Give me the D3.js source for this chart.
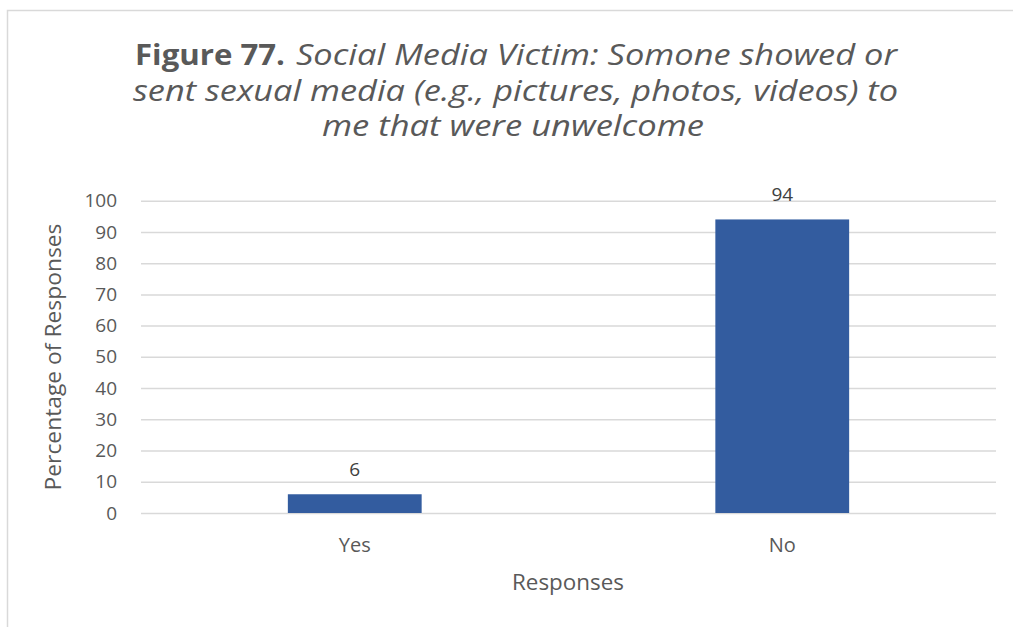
<!DOCTYPE html>
<html>
<head>
<meta charset="utf-8">
<script src="https://cdn.jsdelivr.net/npm/d3@7"></script>
<style>
  html, body { margin: 0; padding: 0; background: #fff; }
  svg { display: block; }
  svg text { font-family: "Open Sans", "DejaVu Sans", sans-serif; }
</style>
</head>
<body>
<svg id="chart" width="1013" height="627"></svg>
<script>
// Survey responses (percent)
const categories = ["Yes", "No"];
const percentages = [6, 94];
const yTicks = [0, 10, 20, 30, 40, 50, 60, 70, 80, 90, 100];

const titleBold = "Figure 77.";
const titleLines = [
  "Social Media Victim: Somone showed or",
  "sent sexual media (e.g., pictures, photos, videos) to",
  "me that were unwelcome"
];
const yAxisTitle = "Percentage of Responses";
const xAxisTitle = "Responses";

const W = 1013, H = 627;
const plot = { left: 141, right: 996, top: 200.7, bottom: 513 };
const textColor = "#595959";
const barColor = "#335c9f";
const gridColor = "#d9d9d9";
const fontStack = '"Open Sans", "DejaVu Sans", sans-serif';

const svg = d3.select("#chart");

// Outer chart frame
svg.append("rect")
  .attr("x", 7.5).attr("y", 10.5)
  .attr("width", W + 10).attr("height", H + 10)
  .attr("fill", "#fff")
  .attr("stroke", "#d9d9d9").attr("stroke-width", 1.5);

const x = d3.scaleBand()
  .domain(categories)
  .range([plot.left, plot.right])
  .paddingInner(0.687)
  .paddingOuter(0.687 / 2);

const y = d3.scaleLinear()
  .domain([0, 100])
  .range([plot.bottom, plot.top]);

// Gridlines and y tick labels
const yAxis = d3.axisLeft(y)
  .tickValues(yTicks)
  .tickSize(-(plot.right - plot.left))
  .tickPadding(24)
  .tickFormat(d3.format("d"));

const gy = svg.append("g")
  .attr("transform", `translate(${plot.left},0)`)
  .call(yAxis)
  .attr("font-family", fontStack);
gy.select(".domain").remove();
gy.selectAll(".tick line").attr("stroke", gridColor).attr("stroke-width", 1.5);
gy.selectAll(".tick text")
  .attr("fill", textColor)
  .style("font-size", "19px");

// Category labels
const xAxis = d3.axisBottom(x).tickSize(0).tickPadding(25);
const gx = svg.append("g")
  .attr("transform", `translate(0,${plot.bottom})`)
  .call(xAxis)
  .attr("font-family", fontStack);
gx.select(".domain").remove();
gx.selectAll(".tick text")
  .attr("fill", textColor)
  .style("font-size", "20px");

// Bars
svg.append("g").selectAll("rect")
  .data(categories)
  .join("rect")
  .attr("x", d => x(d))
  .attr("width", x.bandwidth())
  .attr("y", (d, i) => y(percentages[i]))
  .attr("height", (d, i) => y(0) - y(percentages[i]))
  .attr("fill", barColor);

// Value labels
svg.append("g").selectAll("text")
  .data(categories)
  .join("text")
  .attr("x", d => x(d) + x.bandwidth() / 2)
  .attr("y", (d, i) => y(percentages[i]) - 18.5)
  .attr("text-anchor", "middle")
  .attr("fill", "#404040")
  .style("font-size", "19px")
  .text((d, i) => percentages[i]);

// Axis titles
svg.append("text")
  .attr("transform", `translate(61,357) rotate(-90)`)
  .attr("text-anchor", "middle")
  .attr("fill", textColor)
  .style("font-size", "21px")
  .attr("textLength", 267)
  .attr("lengthAdjust", "spacingAndGlyphs")
  .text(yAxisTitle);

svg.append("text")
  .attr("x", 568).attr("y", 590)
  .attr("text-anchor", "middle")
  .attr("fill", textColor)
  .style("font-size", "21px")
  .attr("textLength", 112)
  .attr("lengthAdjust", "spacingAndGlyphs")
  .text(xAxisTitle);

// Title, three centred lines
const titleRuns = [
  { text: titleBold, x: 135, y: 65, len: 150, bold: true },
  { text: titleLines[0], x: 296, y: 65, len: 601 },
  { text: titleLines[1], x: 133, y: 100.5, len: 765 },
  { text: titleLines[2], x: 322, y: 136, len: 382 }
];
svg.append("g").selectAll("text")
  .data(titleRuns)
  .join("text")
  .attr("x", d => d.x).attr("y", d => d.y)
  .attr("fill", textColor)
  .style("font-size", "29px")
  .style("font-weight", d => d.bold ? "bold" : "normal")
  .style("font-style", d => d.bold ? "normal" : "italic")
  .attr("textLength", d => d.len)
  .attr("lengthAdjust", "spacingAndGlyphs")
  .text(d => d.text);
</script>
</body>
</html>
